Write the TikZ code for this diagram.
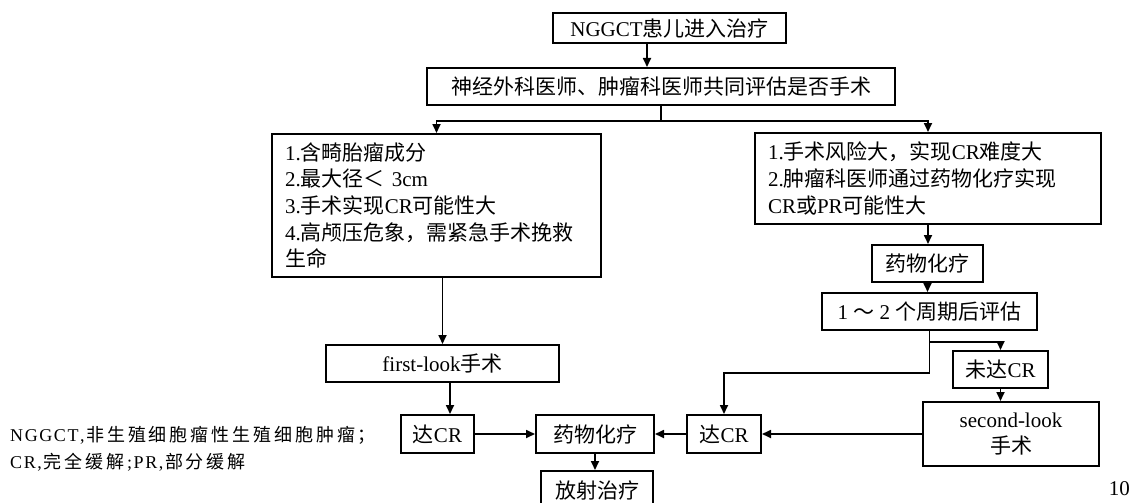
\documentclass[tikz,border=0pt]{standalone}
\usepackage{fontspec}
\setmainfont{Liberation Serif}
\newfontfamily\cjk{Noto Sans CJK SC}
\newcommand\zh[1]{{\cjk #1}}
\usetikzlibrary{arrows.meta}
\def\spaced#1#2{\def\spacedsep{#1}\spacedloop#2\relax}
\def\spacedloop#1{\ifx#1\relax\else#1\hspace{\spacedsep}\expandafter\spacedloop\fi}
\begin{document}
\begin{tikzpicture}[x=1pt,y=-1pt,
  box/.style={draw, line width=2pt, inner sep=0pt, font=\fontsize{21}{26.7}\selectfont, align=center},
  arr/.style={line width=1.7pt, -{Triangle[length=9pt,width=8pt]}},
  ln/.style={line width=1.7pt},
  note/.style={anchor=west, inner sep=0pt, font=\fontsize{18}{20}\selectfont}]
\useasboundingbox (0,0) rectangle (1133,503);

\node[box, minimum width=233pt, minimum height=30pt] (b1) at (669.5,28) {NGGCT\zh{患儿进入治疗}};
\node[box, minimum width=468pt, minimum height=37pt] (b2) at (661,86.5) {\zh{神经外科医师、肿瘤科医师共同评估是否手术}};
\node[box, text width=303pt, inner xsep=13pt, minimum height=143pt, align=left] (b3) at (436.5,205.5)
  {1.\zh{含畸胎瘤成分}\\2.\zh{最大径＜} 3cm\\3.\zh{手术实现}CR\zh{可能性大}\\4.\zh{高颅压危象，需紧急手术挽救}\\\zh{生命}};
\node[box, text width=320pt, inner xsep=13pt, minimum height=91pt, align=left] (b4) at (928,178.5)
  {1.\zh{手术风险大，实现}CR\zh{难度大}\\2.\zh{肿瘤科医师通过药物化疗实现}\\CR\zh{或}PR\zh{可能性大}};
\node[box, minimum width=111pt, minimum height=37pt] (drug1) at (927.5,263.5) {\zh{药物化疗}};
\node[box, minimum width=215pt, minimum height=37pt] (eval) at (929.5,311.5) {1 \zh{～} 2 \zh{个周期后评估}};
\node[box, minimum width=95pt, minimum height=37pt] (nocr) at (1000.5,369.5) {\zh{未达}CR};
\node[box, minimum width=176pt, minimum height=64pt] (second) at (1011,434) {second-look\\\zh{手术}};
\node[box, minimum width=74pt, minimum height=38pt] (crR) at (724,434) {\zh{达}CR};
\node[box, minimum width=118pt, minimum height=38pt] (drug2) at (595,434) {\zh{药物化疗}};
\node[box, minimum width=73pt, minimum height=38pt] (crL) at (437.5,434) {\zh{达}CR};
\node[box, minimum width=112pt, minimum height=38pt] (radio) at (597,490) {\zh{放射治疗}};
\node[box, minimum width=233pt, minimum height=37pt] (first) at (442.5,363.5) {first-look\zh{手术}};

\coordinate (xL) at (450,0);

\draw[arr] ([xshift=-22.5pt]b1.south) -- ([xshift=-14pt]b2.north);
\draw[ln] (b2.south) -- ++(0,15) coordinate (j1);
\draw[arr] (j1) -| (b3.north);
\draw[arr] (j1) -| (b4.north);
\draw[arr] (b3.south -| first.north) -- (first.north);
\draw[arr] (first.south -| xL) -- (crL.north -| xL);
\draw[arr] (crL) -- (drug2);
\draw[arr] (crR) -- (drug2);
\draw[arr] (drug2.south) -- (drug2.south |- radio.north);
\draw[arr] (b4.south) -- (b4.south |- drug1.north);
\draw[arr] (drug1.south) -- (drug1.south |- eval.north);
\draw[ln] (eval.south) -- ++(0,11) coordinate (j2);
\draw[arr] (j2) -| (nocr.north);
\draw[arr] (j2) -- ++(0,31) -| (crR.north);
\draw[arr] (nocr.south) -- (nocr.south |- second.north);
\draw[arr] (second) -- (crR);

\node[note] (fn1) at (10,435) {\spaced{1.6pt}{NGGCT,}\zh{\spaced{2.9pt}{非生殖细胞瘤性生殖细胞肿瘤；}}};
\node[note] (fn2) at (10,462) {\spaced{1.6pt}{CR,}\zh{\spaced{2.9pt}{完全缓解}}\spaced{1.6pt}{;PR,}\zh{\spaced{2.9pt}{部分缓解}}};
\node[anchor=east, inner sep=0pt, font=\fontsize{21}{24}\selectfont] (pg) at (1130,489) {10};
\end{tikzpicture}
\end{document}
